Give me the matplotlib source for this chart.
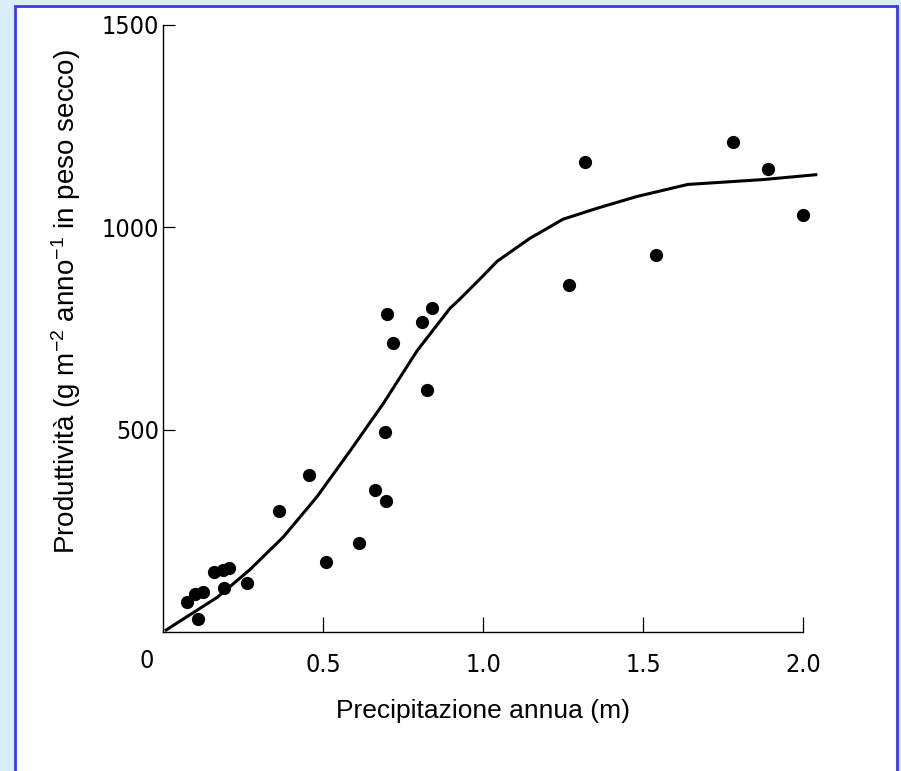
import matplotlib
matplotlib.use("Agg")
import matplotlib.pyplot as plt
from matplotlib import font_manager
from matplotlib.font_manager import FontProperties
from matplotlib.patches import Rectangle

plt.rcParams["mathtext.fontset"] = "custom"
plt.rcParams["mathtext.rm"] = "Liberation Sans"
plt.rcParams["mathtext.it"] = "Liberation Sans:italic"

# Observed points: annual precipitation (m) vs productivity (g m-2 yr-1 dry weight)
precip = [0.075, 0.10, 0.125, 0.11, 0.16, 0.187, 0.206, 0.19, 0.263,
          0.363, 0.456, 0.509, 0.613, 0.662, 0.697, 0.694, 0.70, 0.72,
          0.81, 0.84, 0.825, 1.27, 1.32, 1.54, 1.78, 1.89, 2.0]
product = [74, 94, 99, 32, 148, 153, 158, 108, 121,
           300, 389, 172, 219, 352, 323, 495, 786, 714,
           766, 800, 598, 857, 1162, 931, 1212, 1143, 1030]

# Fitted curve
curve_x = [0.01, 0.17, 0.27, 0.375, 0.48, 0.585, 0.688, 0.794, 0.897,
           0.928, 1.00, 1.044, 1.147, 1.25, 1.356, 1.48, 1.64, 1.875, 2.04]
curve_y = [5, 86, 153, 234, 333, 448, 564, 695, 800,
           823, 880, 916, 973, 1020, 1047, 1076, 1106, 1118, 1130]

x_ticks = [0.5, 1.0, 1.5, 2.0]
x_labels = ["0.5", "1.0", "1.5", "2.0"]
y_ticks = [500, 1000, 1500]
y_labels = ["500", "1000", "1500"]


def narrow_font(size):
    """Pick a condensed sans face if one is installed."""
    fonts = font_manager.fontManager.ttflist
    picks = [
        lambda f: f.name == "Liberation Sans Narrow",
        lambda f: f.name == "DejaVu Sans" and "condensed" in str(f.stretch),
        lambda f: "Condensed" in f.name or "Narrow" in f.name,
    ]
    for ok in picks:
        for f in fonts:
            if ok(f) and f.style == "normal" and f.weight in (400, "normal", "regular"):
                return FontProperties(fname=f.fname, size=size)
    return FontProperties(family="Liberation Sans", size=size - 2)


tick_fp = narrow_font(18)

W, H = 901, 771
fig = plt.figure(figsize=(W / 100, H / 100), dpi=100)
fig.patch.set_facecolor("#daedfb")

# white slide panel with blue frame
fig.patches.append(Rectangle((15 / W, -0.01), (897 - 15) / W, 1 - 6 / H + 0.01,
                             transform=fig.transFigure, facecolor="white",
                             edgecolor="#3b3be6", linewidth=2, zorder=-10))

ax = fig.add_axes([163 / W, (H - 632) / H, 640 / W, 607 / H])
ax.set_facecolor("none")
ax.set_xlim(0, 2.0)
ax.set_ylim(0, 1500)

ax.plot(curve_x, curve_y, color="black", lw=2.2, clip_on=False, zorder=3)
ax.plot(precip, product, "o", color="black", markersize=8.5, clip_on=False, zorder=4)

for s in ["top", "right"]:
    ax.spines[s].set_visible(False)
for s in ["left", "bottom"]:
    ax.spines[s].set_linewidth(1.0)

ax.set_xticks(x_ticks)
ax.set_xticklabels(x_labels, fontproperties=tick_fp)
ax.set_yticks(y_ticks)
ax.set_yticklabels(y_labels, fontproperties=tick_fp)
ax.tick_params(axis="x", direction="in", length=10.5, width=0.9, pad=15)
ax.tick_params(axis="y", direction="in", length=8.5, width=0.9, pad=3)

ax.text(-0.03, -72, "0", ha="right", va="center", fontproperties=tick_fp)

ax.set_xlabel("Precipitazione annua (m)", family="Liberation Sans",
              fontsize=19, labelpad=16)
ax.set_ylabel("Produttività (g m$^{-2}$ anno$^{-1}$ in peso secco)",
              family="Liberation Sans", fontsize=20)
ax.yaxis.set_label_coords(-0.125, 0.545)

fig.savefig("out.png", dpi=100, facecolor=fig.get_facecolor())
